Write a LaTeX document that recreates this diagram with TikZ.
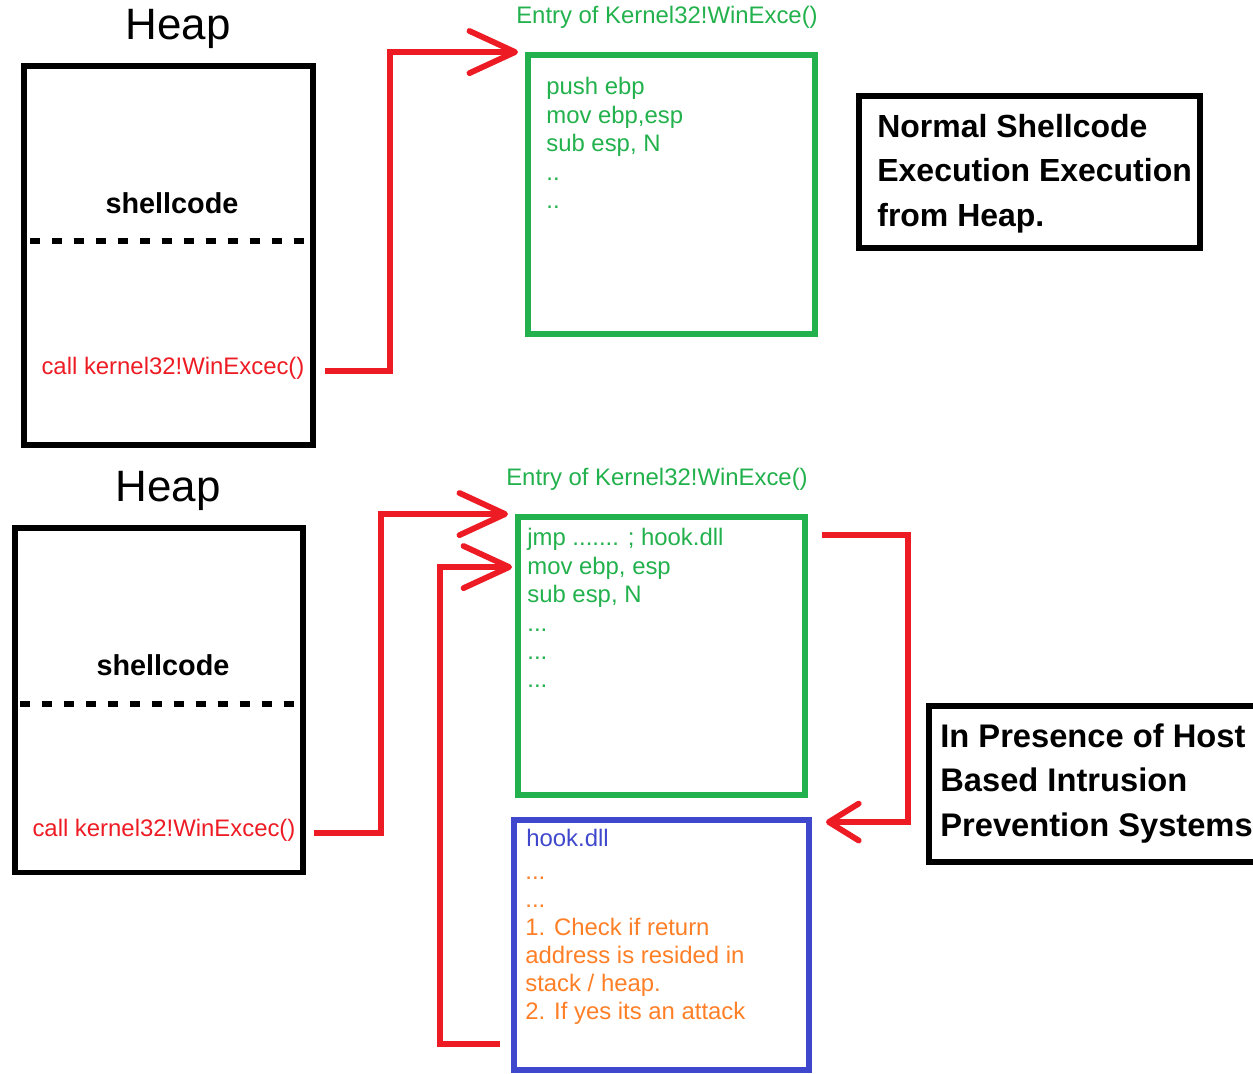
\documentclass[tikz,border=0pt]{standalone}
\usepackage{fontspec}
\setmainfont{Liberation Sans}
\usetikzlibrary{arrows.meta,calc,positioning}
\definecolor{paintRed}{RGB}{237,28,36}
\definecolor{paintGreen}{RGB}{34,177,76}
\definecolor{paintBlue}{RGB}{63,72,204}
\definecolor{paintOrange}{RGB}{255,127,39}
\tikzset{
  heapbox/.style={draw=black, line width=3.4pt, inner sep=0pt},
  codebox/.style={draw=paintGreen, line width=3.4pt, inner sep=0pt},
  hookbox/.style={draw=paintBlue, line width=3.4pt, inner sep=0pt},
  notebox/.style={draw=black, line width=3.8pt, inner sep=0pt},
  heaptitle/.style={inner sep=0pt, font=\fontsize{25}{30}\selectfont},
  memtext/.style={inner sep=0pt, font=\bfseries\fontsize{16.4}{20}\selectfont},
  smalltext/.style={inner sep=0pt, font=\fontsize{13.6}{16.2}\selectfont},
  codetext/.style={smalltext, anchor=north west, align=left},
  notetext/.style={inner sep=0pt, anchor=north west, align=left, font=\bfseries\fontsize{18.6}{25.2}\selectfont},
  divider/.style={line width=2.9pt, dash pattern=on 5.7pt off 6.8pt},
  redflow/.style={draw=paintRed, line width=3.3pt},
  bigtip/.style={-{Straight Barb[length=26pt,width=24pt,round]}},
  smalltip/.style={-{Straight Barb[length=17pt,width=21pt,round]}}
}
\begin{document}
\begin{tikzpicture}[x=0.02cm,y=-0.02cm]
  \useasboundingbox (0,0) rectangle (1253,1073);
  % normal execution
  \node[heaptitle] (heapAt) at (178,29) {Heap};
  \node[heapbox, minimum width=5.78cm, minimum height=7.6cm] (heapA) at (168.5,255.5) {};
  \node[memtext] (shellA) at (172,203) {shellcode};
  \draw[divider] (30,241) -- (306,241);
  \node[smalltext, text=paintRed] (callA) at (173,368) {call kernel32!WinExcec()};
  \node[smalltext, text=paintGreen] (entryAt) at (667,17) {Entry of Kernel32!WinExce()};
  \node[codebox, minimum width=5.74cm, minimum height=5.58cm] (entryA) at (671.5,194.5) {};
  \node[codetext, text=paintGreen] (codeA) at (546,77) {push ebp\\mov ebp,esp\\sub esp, N\\..\\..};
  \node[notebox, minimum width=6.82cm, minimum height=3.04cm] (normal) at (1029.5,172) {};
  \node[notetext, font=\bfseries\fontsize{18.2}{25.2}\selectfont] (normalt) at (877,114) {Normal Shellcode\\Execution Execution\\from Heap.};
  \draw[redflow, bigtip, shorten >=4pt] ($(heapA.east |- callA)+(9,3)$) -- ++(65,0) |- (entryA.north west);
  % with hips
  \node[heaptitle] (heapBt) at (168,491) {Heap};
  \node[heapbox, minimum width=5.76cm, minimum height=6.9cm] (heapB) at (159,700) {};
  \node[memtext] (shellB) at (163,665) {shellcode};
  \draw[divider] (20,704) -- (297,704);
  \node[smalltext, text=paintRed] (callB) at (164,830) {call kernel32!WinExcec()};
  \node[smalltext, text=paintGreen] (entryBt) at (657,479) {Entry of Kernel32!WinExce()};
  \node[codebox, minimum width=5.74cm, minimum height=5.56cm] (entryB) at (661.5,656) {};
  \node[codetext, text=paintGreen] (codeB) at (527,528) {jmp ....... ; hook.dll\\mov ebp, esp\\sub esp, N\\...\\...\\...};
  \node[hookbox, minimum width=5.9cm, minimum height=5cm] (hookB) at (661.5,945) {};
  \node[codetext, text=paintBlue] (hookt) at (526,829) {hook.dll};
  \node[codetext, text=paintOrange, font=\fontsize{13.6}{15.9}\selectfont] (hookc) at (525,862)
    {\vphantom{h}...\\...\\1. Check if return\\address is resided in\\stack / heap.\\2. If yes its an attack};
  \node[notebox, minimum width=6.66cm, minimum height=3.12cm] (hips) at (1095.5,784) {};
  \node[notetext] (hipst) at (940,723.5) {In Presence of Host\\Based Intrusion\\Prevention Systems};
  \draw[redflow, bigtip, shorten >=4pt] ($(heapB.east |- callB)+(8,3)$) -- ++(67,0) |- (entryB.north west);
  \draw[redflow, smalltip] ($(entryB.north east)+(14,21)$) -- ++(86,0) |- ($(hookB.north east)+(14,5)$);
  \draw[redflow, bigtip] ($(hookB.south west)+(-11,-29)$) -- ++(-60,0) |- ($(entryB.north west)+(-3,53)$);
\end{tikzpicture}
\end{document}
